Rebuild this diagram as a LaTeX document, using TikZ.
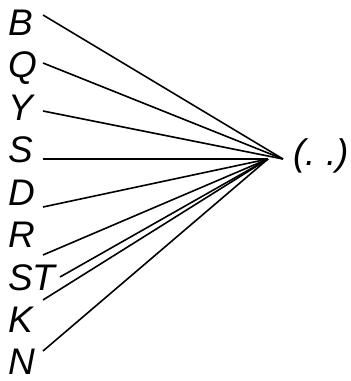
\documentclass[tikz,border=0pt]{standalone}
\usepackage{fontspec}
\setmainfont{Liberation Sans}
\usepackage{tikz}
\usetikzlibrary{positioning, calc}

\tikzset{
    letter/.style={anchor=base west, inner sep=0pt, font=\fontsize{37}{40}\selectfont\itshape},
    wire/.style={line width=1.6pt}
}

\begin{document}
\begin{tikzpicture}[x=1pt, y=-1pt]
        \useasboundingbox (0,0) rectangle (351,381);

        % labels on the left
        \node[letter] (lB)  at (8,35)     {B};
        \node[letter] (lQ)  at (8,77.5)   {Q};
        \node[letter] (lY)  at (8,120)    {Y};
        \node[letter] (lS)  at (8,162.5)  {S};
        \node[letter] (lD)  at (8,205)    {D};
        \node[letter] (lR)  at (8,247.5)  {R};
        \node[letter] (lST) at (8,290)    {ST};
        \node[letter] (lK)  at (8,332.5)  {K};
        \node[letter] (lN)  at (8,374.5)  {N};
        \node[letter] (out) at (293,165)  {(.\ .)};

        % where the lines leave the labels
        \coordinate (sB)  at (43,15);
        \coordinate (sQ)  at (43,63);
        \coordinate (sY)  at (43,111);
        \coordinate (sS)  at (43,159);
        \coordinate (sD)  at (43,207);
        \coordinate (sR)  at (43,255);
        \coordinate (sST) at (60,277);
        \coordinate (sK)  at (43,300);
        \coordinate (sN)  at (43,351);

        % the two meeting points
        \coordinate (hubup) at (283,159);
        \coordinate (hublo) at (268,159);

        \draw[wire] (sB) -- (hubup);
        \draw[wire] (sQ) -- (hubup);
        \draw[wire] (sY) -- (hubup);
        \draw[wire] (sS) -- (hublo);
        \draw[wire] (sD) -- (hublo);
        \draw[wire] (sR) -- (hublo);
        \draw[wire] (sST) -- (hublo);
        \draw[wire] (sK) -- (hublo);
        \draw[wire] (sN) -- (hublo);
    \end{tikzpicture}
\end{document}
